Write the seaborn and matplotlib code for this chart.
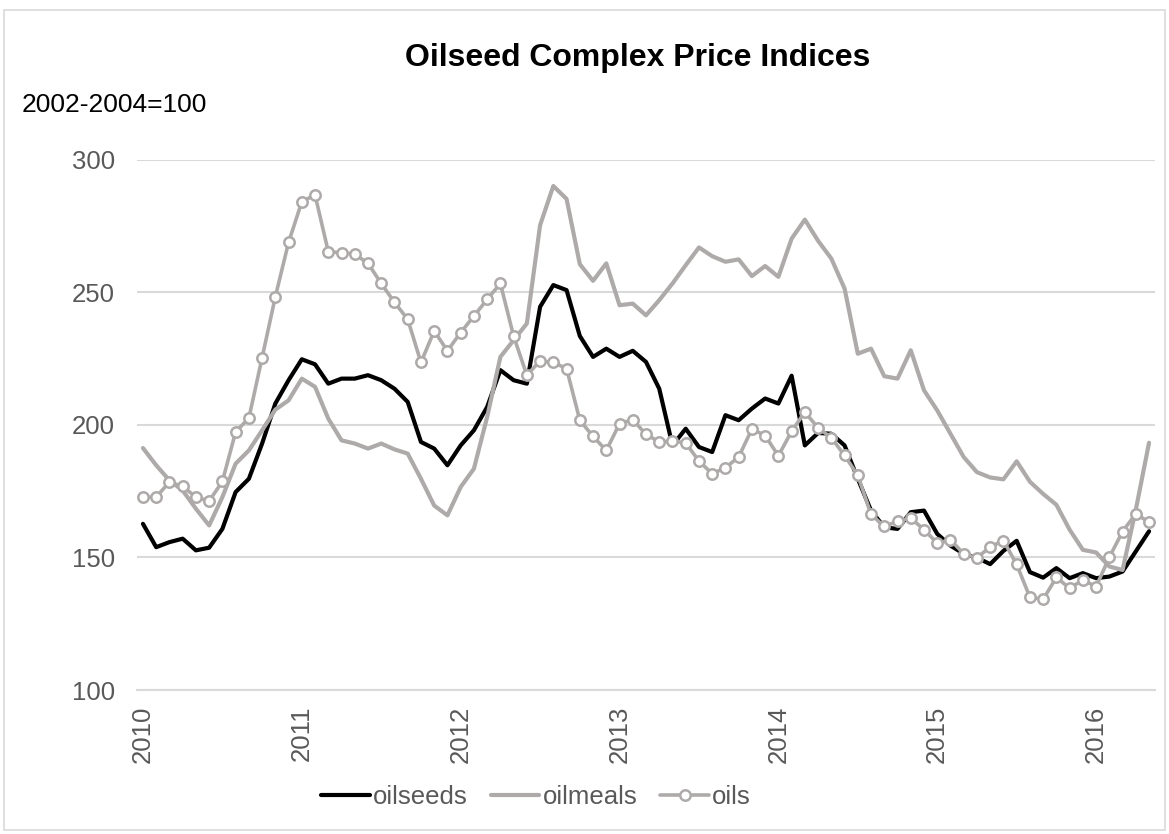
import numpy as np
import pandas as pd
import matplotlib
matplotlib.use("Agg")
import matplotlib.pyplot as plt
import seaborn as sns
from matplotlib.patches import Rectangle

# ---- data (monthly, Jan 2010 - May 2016) ----
months = pd.date_range("2010-01-01", "2016-05-01", freq="MS")
year_labels = ["2010", "2011", "2012", "2013", "2014", "2015", "2016"]

oilseeds = [162.7, 153.9, 155.8, 157.1, 152.7, 153.7, 160.8, 174.7, 179.7, 193.0,
            208.1, 216.9, 224.8, 222.9, 215.6, 217.5, 217.5, 218.8, 216.9, 213.7,
            208.7, 193.6, 191.1, 184.8, 192.3, 198.0, 206.8, 220.7, 216.9, 215.6,
            244.6, 252.8, 250.9, 233.6, 225.7, 228.8, 225.7, 228.0, 223.8, 213.7,
            192.3, 198.6, 191.7, 189.8, 203.7, 201.8, 206.2, 210.0, 208.1, 218.6,
            192.3, 197.0, 196.7, 192.3, 179.7, 167.7, 161.4, 160.8, 167.1, 167.7,
            158.9, 154.5, 151.4, 149.9, 147.5, 152.5, 156.3, 144.5, 142.4, 146.0,
            142.2, 144.1, 142.2, 142.8, 144.7, 152.3, 159.9]

oilmeals = [191.3, 184.8, 179.1, 175.3, 168.4, 162.1, 172.8, 185.4, 190.4, 198.0,
            205.8, 209.3, 217.5, 214.4, 202.4, 194.2, 193.0, 191.1, 193.0, 190.8,
            189.2, 179.7, 169.6, 165.9, 176.6, 183.5, 203.0, 225.7, 232.0, 238.3,
            275.4, 290.2, 285.3, 260.7, 254.4, 261.0, 245.2, 245.8, 241.4, 247.1,
            253.4, 260.3, 267.0, 263.7, 261.6, 262.5, 256.2, 260.0, 255.9, 270.3,
            277.5, 269.5, 262.8, 251.5, 226.9, 228.8, 218.4, 217.5, 228.2, 213.1,
            205.5, 196.7, 187.9, 182.2, 180.2, 179.5, 186.3, 178.6, 174.0, 169.9,
            160.5, 152.9, 151.9, 146.6, 145.3, 168.0, 193.3]

oils = [172.8, 172.8, 178.5, 176.8, 172.8, 171.3, 178.7, 197.4, 202.6, 225.4,
        248.4, 268.9, 284.3, 286.8, 265.4, 265.0, 264.5, 261.0, 253.4, 246.3,
        239.9, 223.6, 235.5, 228.0, 234.9, 241.1, 247.4, 253.4, 233.5, 218.8,
        224.2, 223.6, 221.3, 201.8, 195.7, 190.4, 200.5, 202.0, 196.5, 193.6,
        194.0, 193.2, 186.4, 181.6, 183.9, 187.9, 198.5, 196.0, 188.4, 197.6,
        204.9, 198.9, 195.2, 188.5, 181.0, 166.3, 161.7, 163.7, 164.9, 160.5,
        155.4, 156.7, 151.4, 149.9, 154.0, 156.4, 147.4, 135.0, 134.2, 142.5,
        138.4, 141.5, 139.0, 150.1, 159.8, 166.5, 163.3]

series_names = ["oilseeds", "oilmeals", "oils"]

idx = np.arange(len(months))
df = pd.DataFrame({"idx": idx, "oilseeds": oilseeds, "oilmeals": oilmeals, "oils": oils})

# ---- styling ----
GRAY = "#AEAAAA"
TXT = "#595959"
GRID = "#D9D9D9"
FS = 18.5

sns.set_theme(style="white")
plt.rcParams["font.family"] = ["Liberation Sans", "DejaVu Sans"]

fig = plt.figure(figsize=(11.69, 8.34), dpi=100)
W, H = 1169, 834
ax = fig.add_axes([137 / W, 144 / H, (1155 - 137) / W, 530 / H])

sns.lineplot(data=df, x="idx", y="oilseeds", ax=ax, color="black", lw=3.0,
             label=series_names[0], zorder=3)
sns.lineplot(data=df, x="idx", y="oilmeals", ax=ax, color=GRAY, lw=3.0,
             label=series_names[1], zorder=4)
sns.lineplot(data=df, x="idx", y="oils", ax=ax, color=GRAY, lw=2.6,
             marker="o", markersize=7.5, markerfacecolor="white",
             markeredgecolor=GRAY, markeredgewidth=1.8, label=series_names[2], zorder=5)

ax.set_xlim(-0.45, len(months) - 1 + 0.45)
ax.set_ylim(100, 300)
ax.set_yticks([100, 150, 200, 250, 300])
ax.set_yticklabels(["100", "150", "200", "250", "300"], fontsize=FS, color=TXT)
ax.yaxis.grid(True, color=GRID, lw=1.5)
ax.set_axisbelow(True)

xt = [i for i, m in enumerate(months) if m.month == 1]
ax.set_xticks(idx)
lab = [""] * len(idx)
for i, y in zip(xt, year_labels):
    lab[i] = y
ax.set_xticklabels(lab, rotation=90, fontsize=FS, color=TXT)
ax.tick_params(axis="x", length=6, width=1.2, color=GRID, pad=5, direction="out")
ax.tick_params(axis="y", length=0, pad=16)

for s in ["top", "right", "left"]:
    ax.spines[s].set_visible(False)
ax.spines["bottom"].set_color(GRID)
ax.spines["bottom"].set_linewidth(1.5)
ax.set_xlabel("")
ax.set_ylabel("")

# legend
leg = ax.legend(loc="center", bbox_to_anchor=(536 / W, 1 - 797 / H),
                bbox_transform=fig.transFigure, ncol=3, frameon=False,
                fontsize=FS, handlelength=1.9, handletextpad=0.12,
                columnspacing=0.9, borderaxespad=0)
for t in leg.get_texts():
    t.set_color(TXT)

fig.text(638 / W, 1 - 58 / H, "Oilseed Complex Price Indices", ha="center",
         va="center", fontsize=23, fontweight="bold", color="black")
fig.text(22 / W, 1 - 105 / H, "2002-2004=100", ha="left", va="center",
         fontsize=19, color="black")

fig.patches.append(Rectangle((4 / W, 4 / H), 1 - 8 / W, 1 - 14 / H,
                             transform=fig.transFigure, fill=False,
                             edgecolor="#D9D9D9", lw=1.2))

fig.savefig("out.png", dpi=100)
